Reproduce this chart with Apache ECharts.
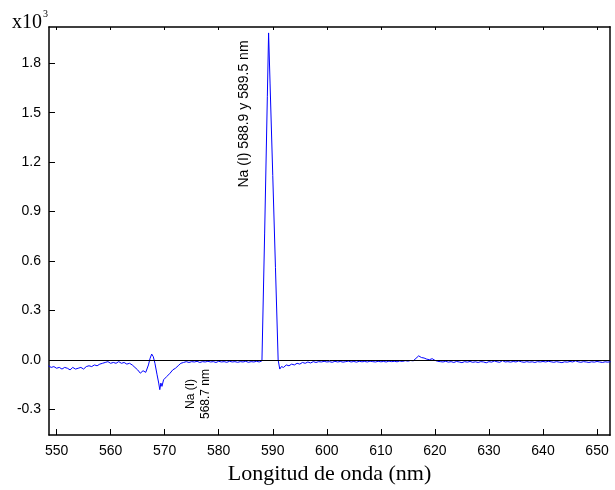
<!DOCTYPE html>
<html>
<head>
<meta charset="utf-8">
<script src="https://cdn.jsdelivr.net/npm/echarts@6/dist/echarts.min.js"></script>
<style>html,body{margin:0;padding:0;background:#fff;}#c{width:615px;height:490px;}</style>
</head>
<body>
<div id="c"></div>
<script>
// Wavelength (nm)
var wavelength = [
548.5,549.0,549.5,550.0,550.5,551.0,551.5,552.0,552.5,553.0,553.5,554.0,554.5,555.0,555.5,556.0,556.5,557.0,557.5,558.0,
558.5,559.0,559.5,560.0,560.5,561.0,561.5,562.0,562.5,563.0,563.5,564.0,564.5,565.0,565.5,566.0,566.5,567.0,567.3,567.6,
567.9,568.2,568.6,568.9,569.1,569.3,569.5,569.8,570.1,570.4,570.7,571.0,571.5,572.0,572.5,573.0,573.5,574.0,574.5,575.0,
575.5,576.0,576.5,577.0,577.5,578.0,578.5,579.0,579.5,580.0,580.5,581.0,581.5,582.0,582.5,583.0,583.5,584.0,584.5,585.0,
585.5,586.0,586.5,587.0,587.5,588.0,588.5,589.0,589.23,589.5,590.0,590.5,591.0,591.3,591.6,592.0,592.5,593.0,593.5,594.0,
594.5,595.0,595.5,596.0,596.5,597.0,597.5,598.0,598.5,599.0,599.5,600.0,600.5,601.0,601.5,602.0,602.5,603.0,603.5,604.0,
604.5,605.0,605.5,606.0,606.5,607.0,607.5,608.0,608.5,609.0,609.5,610.0,610.5,611.0,611.5,612.0,612.5,613.0,613.5,614.0,
614.5,615.0,615.5,616.0,616.5,617.0,617.2,617.5,618.0,618.5,619.0,619.5,620.0,620.5,621.0,621.5,622.0,622.5,623.0,623.5,
624.0,624.5,625.0,625.5,626.0,626.5,627.0,627.5,628.0,628.5,629.0,629.5,630.0,630.5,631.0,631.5,632.0,632.5,633.0,633.5,
634.0,634.5,635.0,635.5,636.0,636.5,637.0,637.5,638.0,638.5,639.0,639.5,640.0,640.5,641.0,641.5,642.0,642.5,643.0,643.5,
644.0,644.5,645.0,645.5,646.0,646.5,647.0,647.5,648.0,648.5,649.0,649.5,650.0,650.5,651.0,651.5,652.0,652.5
];
// Intensity (x10^3)
var intensity = [
-0.035,-0.045,-0.040,-0.050,-0.045,-0.055,-0.045,-0.050,-0.060,-0.045,-0.055,-0.050,-0.045,-0.055,-0.040,-0.035,-0.040,-0.030,-0.035,-0.025,
-0.020,-0.015,-0.010,-0.020,-0.015,-0.020,-0.010,-0.020,-0.015,-0.025,-0.020,-0.030,-0.045,-0.060,-0.080,-0.065,-0.075,-0.030,0.010,0.036,
0.020,-0.020,-0.090,-0.140,-0.180,-0.140,-0.160,-0.120,-0.130,-0.100,-0.090,-0.080,-0.060,-0.050,-0.035,-0.020,-0.015,-0.010,-0.015,-0.010,
-0.012,-0.008,-0.015,-0.010,-0.012,-0.008,-0.012,-0.010,-0.015,-0.008,-0.012,-0.010,-0.014,-0.008,-0.012,-0.010,-0.014,-0.010,-0.012,-0.008,
-0.014,-0.010,-0.012,-0.008,-0.012,-0.005,0.770,1.600,1.984,1.680,1.120,0.560,0.000,-0.055,-0.040,-0.045,-0.030,-0.035,-0.025,-0.030,
-0.020,-0.025,-0.015,-0.020,-0.012,-0.018,-0.010,-0.015,-0.010,-0.012,-0.008,-0.012,-0.010,-0.014,-0.008,-0.012,-0.009,-0.013,-0.010,-0.007,
-0.012,-0.009,-0.013,-0.008,-0.011,-0.009,-0.012,-0.007,-0.010,-0.012,-0.008,-0.011,-0.009,-0.012,-0.007,-0.010,-0.008,-0.011,-0.006,-0.009,
-0.004,-0.007,-0.003,-0.005,0.010,0.025,0.036,0.015,0.012,0.005,0.002,0.008,-0.002,-0.008,-0.010,-0.012,-0.008,-0.013,-0.010,-0.015,
-0.009,-0.012,-0.016,-0.010,-0.013,-0.009,-0.014,-0.011,-0.015,-0.010,-0.012,-0.017,-0.010,-0.013,-0.006,-0.011,-0.014,-0.004,-0.012,-0.010,
-0.013,-0.009,-0.012,-0.006,-0.011,-0.014,-0.010,-0.013,-0.011,-0.015,-0.010,-0.012,-0.009,-0.012,-0.008,-0.011,-0.014,-0.010,-0.013,-0.016,
-0.011,-0.013,-0.009,-0.012,-0.005,-0.011,-0.014,-0.010,-0.012,-0.015,-0.011,-0.013,-0.009,-0.012,-0.015,-0.011,-0.013,-0.010
];
var xTickValues = [550,560,570,580,590,600,610,620,630,640,650];
var yTickValues = [-0.3,0.0,0.3,0.6,0.9,1.2,1.5,1.8];
var peakLabel = 'Na (I) 588.9 y 589.5 nm';
var smallLabel = 'Na (I)\n568.7 nm';
var yUnit = 'x10';
var yUnitExp = '3';
var xTitle = 'Longitud de onda (nm)';

var points = wavelength.map(function (w, i) { return [w, intensity[i]]; });

var chart = echarts.init(document.getElementById('c'), null, {renderer: 'canvas'});
var axisLineStyle = {color: '#000', width: 1.5};
chart.setOption({
  animation: false,
  backgroundColor: '#fff',
  grid: {left: 49, right: 5, top: 27, bottom: 55},
  xAxis: [{
    type: 'value', min: 548.6, max: 652.4, position: 'bottom',
    axisLine: {onZero: false, lineStyle: axisLineStyle},
    axisTick: {inside: true, length: 6, customValues: xTickValues, lineStyle: {color: '#000', width: 1}},
    axisLabel: {customValues: xTickValues, fontSize: 14, color: '#000', fontFamily: 'Liberation Sans', margin: 9},
    splitLine: {show: false},
    name: xTitle, nameLocation: 'middle', nameGap: 24,
    nameTextStyle: {fontFamily: 'Liberation Serif', fontSize: 22, color: '#000'}
  }, {
    type: 'value', min: 548.6, max: 652.4, position: 'top',
    axisLine: {onZero: false, lineStyle: axisLineStyle},
    axisTick: {inside: true, length: 3, customValues: xTickValues, lineStyle: {color: '#000', width: 1}},
    axisLabel: {show: false}, splitLine: {show: false}
  }],
  yAxis: [{
    type: 'value', min: -0.455, max: 2.02, position: 'left',
    axisLine: {onZero: false, lineStyle: axisLineStyle},
    axisTick: {inside: true, length: 6, customValues: yTickValues, lineStyle: {color: '#000', width: 1}},
    axisLabel: {customValues: yTickValues, fontSize: 14, color: '#000', fontFamily: 'Liberation Sans', margin: 8,
      formatter: function (v) { return v.toFixed(1); }},
    splitLine: {show: false}
  }, {
    type: 'value', min: -0.455, max: 2.02, position: 'right',
    axisLine: {onZero: false, lineStyle: {color: '#444', width: 2}},
    axisTick: {show: false}, axisLabel: {show: false}, splitLine: {show: false}
  }],
  series: [{
    type: 'line', data: points, xAxisIndex: 0, yAxisIndex: 0,
    showSymbol: false, symbol: 'none',
    lineStyle: {color: '#0000ff', width: 1},
    markLine: {
      silent: true, symbol: 'none', label: {show: false},
      lineStyle: {color: '#000', type: 'solid', width: 1},
      data: [{yAxis: 0}]
    }
  }],
  graphic: [
    {type: 'text', x: 244, y: 114, rotation: Math.PI / 2,
      style: {text: peakLabel, font: '14px "Liberation Sans"', fill: '#000', align: 'center', verticalAlign: 'middle'}},
    {type: 'text', x: 198, y: 394, rotation: Math.PI / 2,
      style: {text: smallLabel, font: '12px "Liberation Sans"', fill: '#000', align: 'center', verticalAlign: 'middle', lineHeight: 15}},
    {type: 'text', x: 12, y: 23,
      style: {text: yUnit, font: '20px "Liberation Serif"', fill: '#000', align: 'left', verticalAlign: 'middle'}},
    {type: 'text', x: 43, y: 14,
      style: {text: yUnitExp, font: '10px "Liberation Serif"', fill: '#000', align: 'left', verticalAlign: 'middle'}}
  ]
});
</script>
</body>
</html>
